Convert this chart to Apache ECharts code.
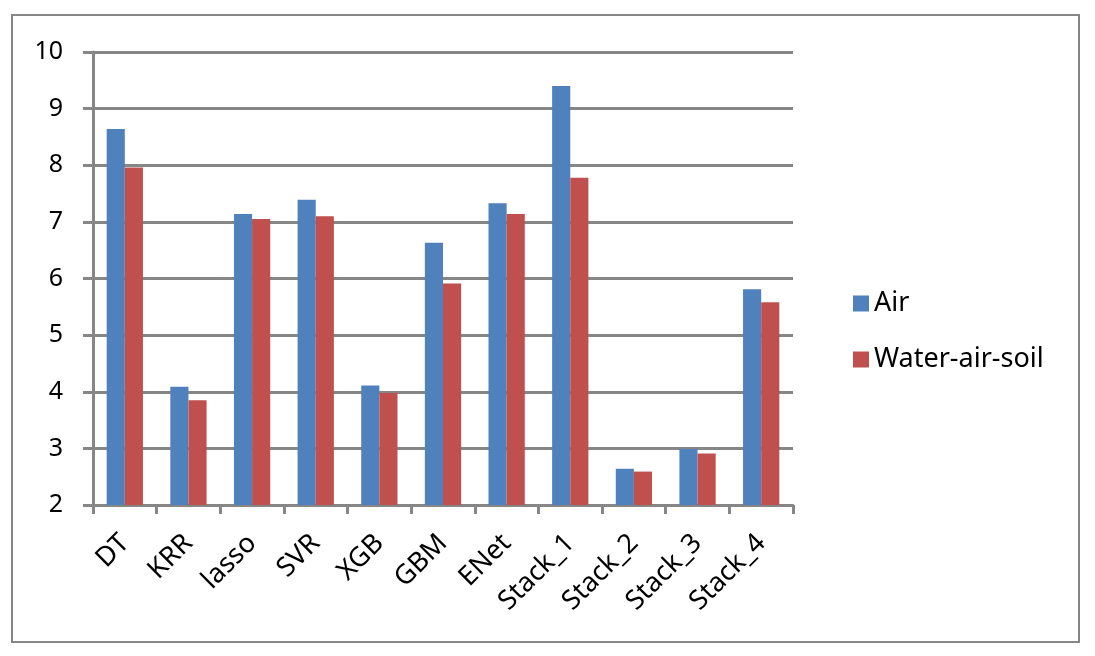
<!DOCTYPE html>
<html>
<head>
<meta charset="utf-8">
<script src="https://cdn.jsdelivr.net/npm/echarts@6/dist/echarts.min.js"></script>
<style>
  html, body { margin: 0; padding: 0; background: #fff; }
  #frame { position: absolute; left: 11px; top: 14px; width: 1065px; height: 625px; border: 2px solid #868686; box-sizing: content-box; }
  #chart { position: absolute; left: 0; top: 0; width: 1095px; height: 656px; }
</style>
</head>
<body>
<div id="frame"></div>
<div id="chart"></div>
<script>
var categories = ['DT', 'KRR', 'lasso', 'SVR', 'XGB', 'GBM', 'ENet', 'Stack_1', 'Stack_2', 'Stack_3', 'Stack_4'];
var airValues = [8.64, 4.09, 7.14, 7.39, 4.11, 6.63, 7.33, 9.40, 2.64, 2.99, 5.81];
var wasValues = [7.96, 3.85, 7.05, 7.10, 3.98, 5.91, 7.14, 7.78, 2.59, 2.91, 5.58];
var seriesNames = ['Air', 'Water-air-soil'];

var gray = '#868686';
var font = 'Noto Sans';

var option = {
    animation: false,
    color: ['#4F81BD', '#C0504D'],
    grid: {
        left: 93,
        right: 302,
        top: 52,
        bottom: 151
    },
    legend: {
        orient: 'vertical',
        left: 848,
        top: 285,
        itemWidth: 16,
        itemHeight: 16,
        itemGap: 29,
        icon: 'rect',
        textStyle: {
            fontFamily: font,
            fontSize: 27,
            lineHeight: 27,
            color: '#000'
        },
        data: seriesNames
    },
    xAxis: {
        type: 'category',
        data: categories,
        axisLine: { lineStyle: { color: gray, width: 3 } },
        axisTick: { show: true, length: 9, lineStyle: { color: gray, width: 3 } },
        axisLabel: {
            rotate: 45,
            margin: 34,
            interval: 0,
            fontFamily: font,
            fontSize: 27,
            color: '#000'
        }
    },
    yAxis: {
        type: 'value',
        min: 2,
        max: 10,
        interval: 1,
        axisLine: { show: true, lineStyle: { color: gray, width: 3 } },
        axisTick: { show: true, inside: false, length: 10, lineStyle: { color: gray, width: 3 } },
        splitLine: { lineStyle: { color: gray, width: 3 } },
        axisLabel: {
            margin: 30,
            fontFamily: font,
            fontSize: 25,
            color: '#000'
        }
    },
    series: [
        {
            name: seriesNames[0],
            type: 'bar',
            data: airValues,
            barGap: '0%',
            barCategoryGap: '43%'
        },
        {
            name: seriesNames[1],
            type: 'bar',
            data: wasValues,
            barGap: '0%',
            barCategoryGap: '43%'
        }
    ]
};

var myChart = echarts.init(document.getElementById('chart'));
myChart.setOption(option);
</script>
</body>
</html>
